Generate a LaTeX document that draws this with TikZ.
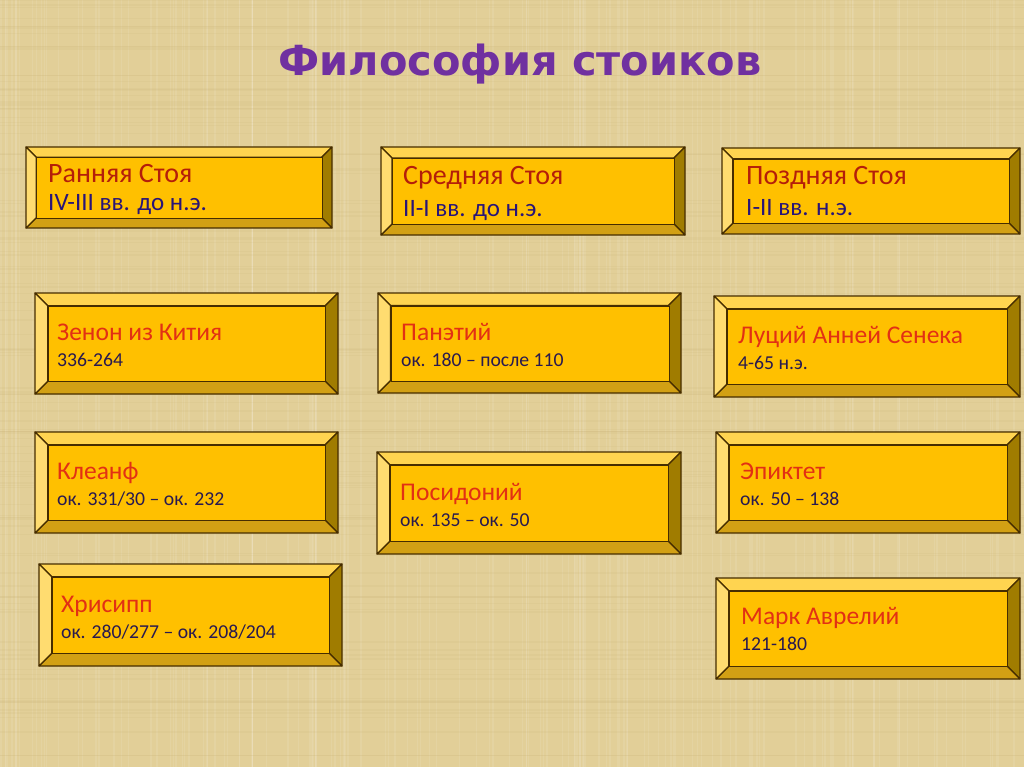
\documentclass[tikz,border=0pt]{standalone}
\usepackage{fontspec}
\setmainfont{Carlito}
\newfontfamily\tfont{DejaVu Sans}
\usetikzlibrary{calc}
\definecolor{bg}{RGB}{226,207,152}
\definecolor{bgdark}{RGB}{190,165,105}
\definecolor{bvtop}{RGB}{255,212,80}
\definecolor{bvleft}{RGB}{255,220,112}
\definecolor{bvface}{RGB}{255,192,0}
\definecolor{bvbot}{RGB}{210,160,20}
\definecolor{bvright}{RGB}{160,124,0}
\definecolor{bvline}{RGB}{70,45,0}
\definecolor{namecol}{RGB}{226,48,20}
\definecolor{stagecol}{RGB}{180,30,10}
\definecolor{datecol}{RGB}{40,25,80}
\definecolor{periodcol}{RGB}{40,20,120}
\definecolor{titlecol}{RGB}{112,48,160}
\tikzset{
  bev/.style={draw=bvline,line width=1.1pt,line join=round},
  facebox/.style={fill=bvface,draw=bvline,line width=1.1pt,inner sep=0pt,rectangle},
  namet/.style={anchor=base west,inner sep=0pt,text=namecol,font=\fontsize{25.5}{30}\selectfont},
  datet/.style={anchor=base west,inner sep=0pt,text=datecol,font=\fontsize{19.7}{24}\selectfont},
  staget/.style={anchor=base west,inner sep=0pt,text=stagecol,font=\fontsize{28}{33}\selectfont},
  periodt/.style={anchor=base west,inner sep=0pt,text=periodcol,font=\fontsize{25}{29}\selectfont},
}
\newcommand\bevbox[5]{%
  \pgfmathsetmacro\bw{#4-#2}%
  \pgfmathsetmacro\bh{#5-#3}%
  \pgfmathsetmacro\bd{0.125*min(\bw,\bh)}%
  \pgfmathsetmacro\fw{\bw-2*\bd}%
  \pgfmathsetmacro\fh{\bh-2*\bd}%
  \coordinate (#1-o1) at (#2,#3);
  \coordinate (#1-o2) at (#4,#3);
  \coordinate (#1-o3) at (#4,#5);
  \coordinate (#1-o4) at (#2,#5);
  \coordinate (#1-i1) at (#2+\bd,#3+\bd);
  \coordinate (#1-i2) at (#4-\bd,#3+\bd);
  \coordinate (#1-i3) at (#4-\bd,#5-\bd);
  \coordinate (#1-i4) at (#2+\bd,#5-\bd);
  \filldraw[bev,fill=bvtop] (#1-o1)--(#1-o2)--(#1-i2)--(#1-i1)--cycle;
  \filldraw[bev,fill=bvright] (#1-o2)--(#1-o3)--(#1-i3)--(#1-i2)--cycle;
  \filldraw[bev,fill=bvbot] (#1-o3)--(#1-o4)--(#1-i4)--(#1-i3)--cycle;
  \filldraw[bev,fill=bvleft] (#1-o4)--(#1-o1)--(#1-i1)--(#1-i4)--cycle;
  \node[facebox,minimum width=\fw pt,minimum height=\fh pt,anchor=north west] (#1) at (#1-i1) {};
}
\begin{document}
\begin{tikzpicture}[x=1pt,y=-1pt]
\fill[bg] (0,0) rectangle (1024,767);
\useasboundingbox (0,0) rectangle (1024,767);
\pgfmathsetseed{11}
\foreach \i in {1,...,160}{
  \pgfmathsetmacro\xx{rnd*1024}
  \pgfmathsetmacro\ww{0.4+rnd*1.6}
  \draw[white,opacity=0.09,line width=\ww pt] (\xx,0)--(\xx,767);
}
\foreach \i in {1,...,120}{
  \pgfmathsetmacro\yy{rnd*767}
  \pgfmathsetmacro\ww{0.4+rnd*1.6}
  \draw[bgdark,opacity=0.09,line width=\ww pt] (0,\yy)--(1024,\yy);
}
\node[anchor=base,inner sep=0pt,text=titlecol,font=\tfont\bfseries\fontsize{41.5}{48}\selectfont] (title) at (520,76) {Философия стоиков};

\bevbox{s1}{26}{147}{332}{228}
\node[staget] (s1-n) at (48,183) {Ранняя Стоя};
\node[periodt] (s1-d) at (48,211) {IV-III вв. до н.э.};
\bevbox{s2}{381}{147}{685}{235}
\node[staget] (s2-n) at (403,185) {Средняя Стоя};
\node[periodt] (s2-d) at (403,217) {II-I вв. до н.э.};
\bevbox{s3}{722}{148}{1020}{234}
\node[staget] (s3-n) at (746,185) {Поздняя Стоя};
\node[periodt] (s3-d) at (746,216) {I-II вв. н.э.};

\bevbox{p1}{35}{293}{338}{394}
\node[namet] (p1-n) at (57,340) {Зенон из Кития};
\node[datet] (p1-d) at (57,366) {336-264};
\bevbox{p2}{35}{432}{338}{533}
\node[namet] (p2-n) at (57,479) {Клеанф};
\node[datet] (p2-d) at (57,505) {ок. 331/30 – ок. 232};
\bevbox{p3}{39}{564}{342}{666}
\node[namet] (p3-n) at (61,612) {Хрисипп};
\node[datet] (p3-d) at (61,638) {ок. 280/277 – ок. 208/204};

\bevbox{p4}{378}{293}{681}{393}
\node[namet] (p4-n) at (401,340) {Панэтий};
\node[datet] (p4-d) at (401,366) {ок. 180 – после 110};
\bevbox{p5}{377}{452}{681}{554}
\node[namet] (p5-n) at (400,500) {Посидоний};
\node[datet] (p5-d) at (400,526) {ок. 135 – ок. 50};

\bevbox{p6}{714}{296}{1020}{397}
\node[namet] (p6-n) at (738,343) {Луций Анней Сенека};
\node[datet] (p6-d) at (738,369) {4-65 н.э.};
\bevbox{p7}{716}{432}{1020}{533}
\node[namet] (p7-n) at (740,479) {Эпиктет};
\node[datet] (p7-d) at (740,505) {ок. 50 – 138};
\bevbox{p8}{716}{578}{1020}{679}
\node[namet] (p8-n) at (741,624) {Марк Аврелий};
\node[datet] (p8-d) at (741,650) {121-180};
\end{tikzpicture}
\end{document}
